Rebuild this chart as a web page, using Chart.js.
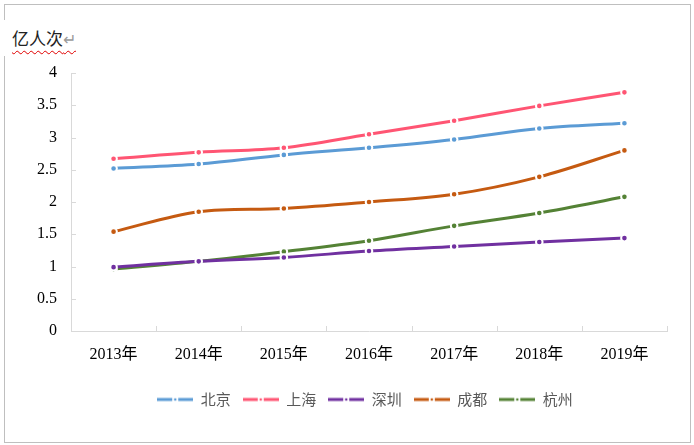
<!DOCTYPE html>
<html>
<head>
<meta charset="utf-8">
<script src="https://cdn.jsdelivr.net/npm/chart.js@4.4.1/dist/chart.umd.min.js"></script>
<style>
  body { margin: 0; background: #fff; }
  #wrap { position: relative; width: 694px; height: 445px; }
  #frame { position: absolute; left: 4px; top: 4px; width: 685px; height: 437px; border: 1px solid #bfbfbf; }
  #title { position: absolute; left: 1px; top: 20px; height: 36px; padding-left: 11px; padding-right: 4px; background: #fff;
           font-family: "Noto Sans CJK SC", sans-serif; font-size: 17px; line-height: 36px; color: #222; }
  #title span.t { text-decoration: underline wavy #e00000; text-decoration-thickness: 1px; text-underline-offset: 5px; }
  #title span.p { color: #9a9a9a; font-size: 16px; }
  canvas { position: absolute; left: 0; top: 0; }
</style>
</head>
<body>
<div id="wrap">
  <div id="frame"></div>
  <canvas id="myChart" width="694" height="445"></canvas>
  <div id="title"><span class="t">亿人次<span class="p">↵</span></span></div>
</div>
<script>
var years = ["2013年", "2014年", "2015年", "2016年", "2017年", "2018年", "2019年"];
var beijing = [2.52, 2.59, 2.73, 2.84, 2.97, 3.14, 3.22];
var shanghai = [2.67, 2.77, 2.84, 3.05, 3.26, 3.49, 3.70];
var shenzhen = [0.99, 1.08, 1.14, 1.24, 1.31, 1.38, 1.44];
var chengdu = [1.54, 1.85, 1.90, 2.00, 2.12, 2.39, 2.80];
var hangzhou = [0.96, 1.08, 1.23, 1.40, 1.63, 1.83, 2.08];

var names = ["北京", "上海", "深圳", "成都", "杭州"];
var colors = ['#5b9bd5', '#ff5573', '#7030a0', '#c55a11', '#548235'];
var series = [beijing, shanghai, shenzhen, chengdu, hangzhou];

var serifFont = '"Liberation Serif", "Noto Sans CJK SC", serif';

// small legend swatch: line - dot - line
function swatch(color) {
    var c = document.createElement('canvas');
    c.width = 36; c.height = 6;
    var g = c.getContext('2d');
    g.fillStyle = color;
    g.fillRect(0, 1.5, 15, 3);
    g.fillRect(21, 1.5, 15, 3);
    g.beginPath();
    g.arc(18, 3, 1.3, 0, Math.PI * 2);
    g.fill();
    return c;
}

var innerTicks = {
    id: 'innerTicks',
    afterLayout: function(chart) {
        // centre the legend under the plot area rather than the canvas
        var lg = chart.legend;
        if (lg) {
            var shift = (chart.chartArea.left + chart.chartArea.right) / 2 - (lg.left + lg.right) / 2 - 4;
            lg.left += shift; lg.right += shift;
        }
    },
    afterDraw: function(chart) {
        var g = chart.ctx, x = chart.scales.x, y = chart.scales.y;
        g.save();
        g.strokeStyle = '#d9d9d9';
        g.lineWidth = 1;
        g.beginPath();
        y.ticks.forEach(function(t) {
            var py = Math.round(y.getPixelForValue(t.value)) + 0.5;
            g.moveTo(y.right, py); g.lineTo(y.right + 5, py);
        });
        var step = (x.right - x.left) / years.length;
        for (var i = 0; i <= years.length; i++) {
            var px = Math.round(x.left + i * step) + 0.5;
            g.moveTo(px, x.top); g.lineTo(px, x.top - 5);
        }
        g.stroke();
        g.restore();
    }
};

var ctx = document.getElementById("myChart");
var myChart = new Chart(ctx, {
    type: 'line',
    data: {
        labels: years,
        datasets: series.map(function(d, i) {
            return {
                label: names[i],
                data: d,
                borderColor: colors[i],
                backgroundColor: colors[i],
                borderWidth: 3,
                tension: 0.35,
                pointRadius: 3.3,
                pointBorderColor: '#fff',
                pointBorderWidth: 2,
                pointBackgroundColor: colors[i],
                fill: false
            };
        })
    },
    options: {
        responsive: false,
        animation: false,
        layout: { padding: { top: 73, right: 27, left: 0, bottom: 28 } },
        plugins: {
            tooltip: { enabled: false },
            legend: {
                position: 'bottom',
                labels: {
                    usePointStyle: true,
                    pointStyleWidth: 36,
                    padding: 12,
                    color: '#595959',
                    font: { family: '"Noto Sans CJK SC", sans-serif', size: 15 },
                    generateLabels: function(chart) {
                        var items = Chart.defaults.plugins.legend.labels.generateLabels(chart);
                        items.forEach(function(it, i) { it.pointStyle = swatch(colors[i]); });
                        return items;
                    }
                }
            }
        },
        scales: {
            x: {
                offset: true,
                grid: { display: false, drawTicks: false },
                border: { display: true, color: '#d9d9d9' },
                ticks: { color: '#000', padding: 14, font: { family: serifFont, size: 16 } },
                afterFit: function(s) { s.height = 49; }
            },
            y: {
                min: 0, max: 4,
                grid: { display: false, drawTicks: false },
                border: { display: true, color: '#d9d9d9' },
                ticks: {
                    stepSize: 0.5, color: '#000', padding: 14, font: { family: serifFont, size: 16 },
                    callback: function(v) { return String(v); }
                },
                afterFit: function(s) { s.width = 71; }
            }
        }
    },
    plugins: [innerTicks]
});
</script>
</body>
</html>
